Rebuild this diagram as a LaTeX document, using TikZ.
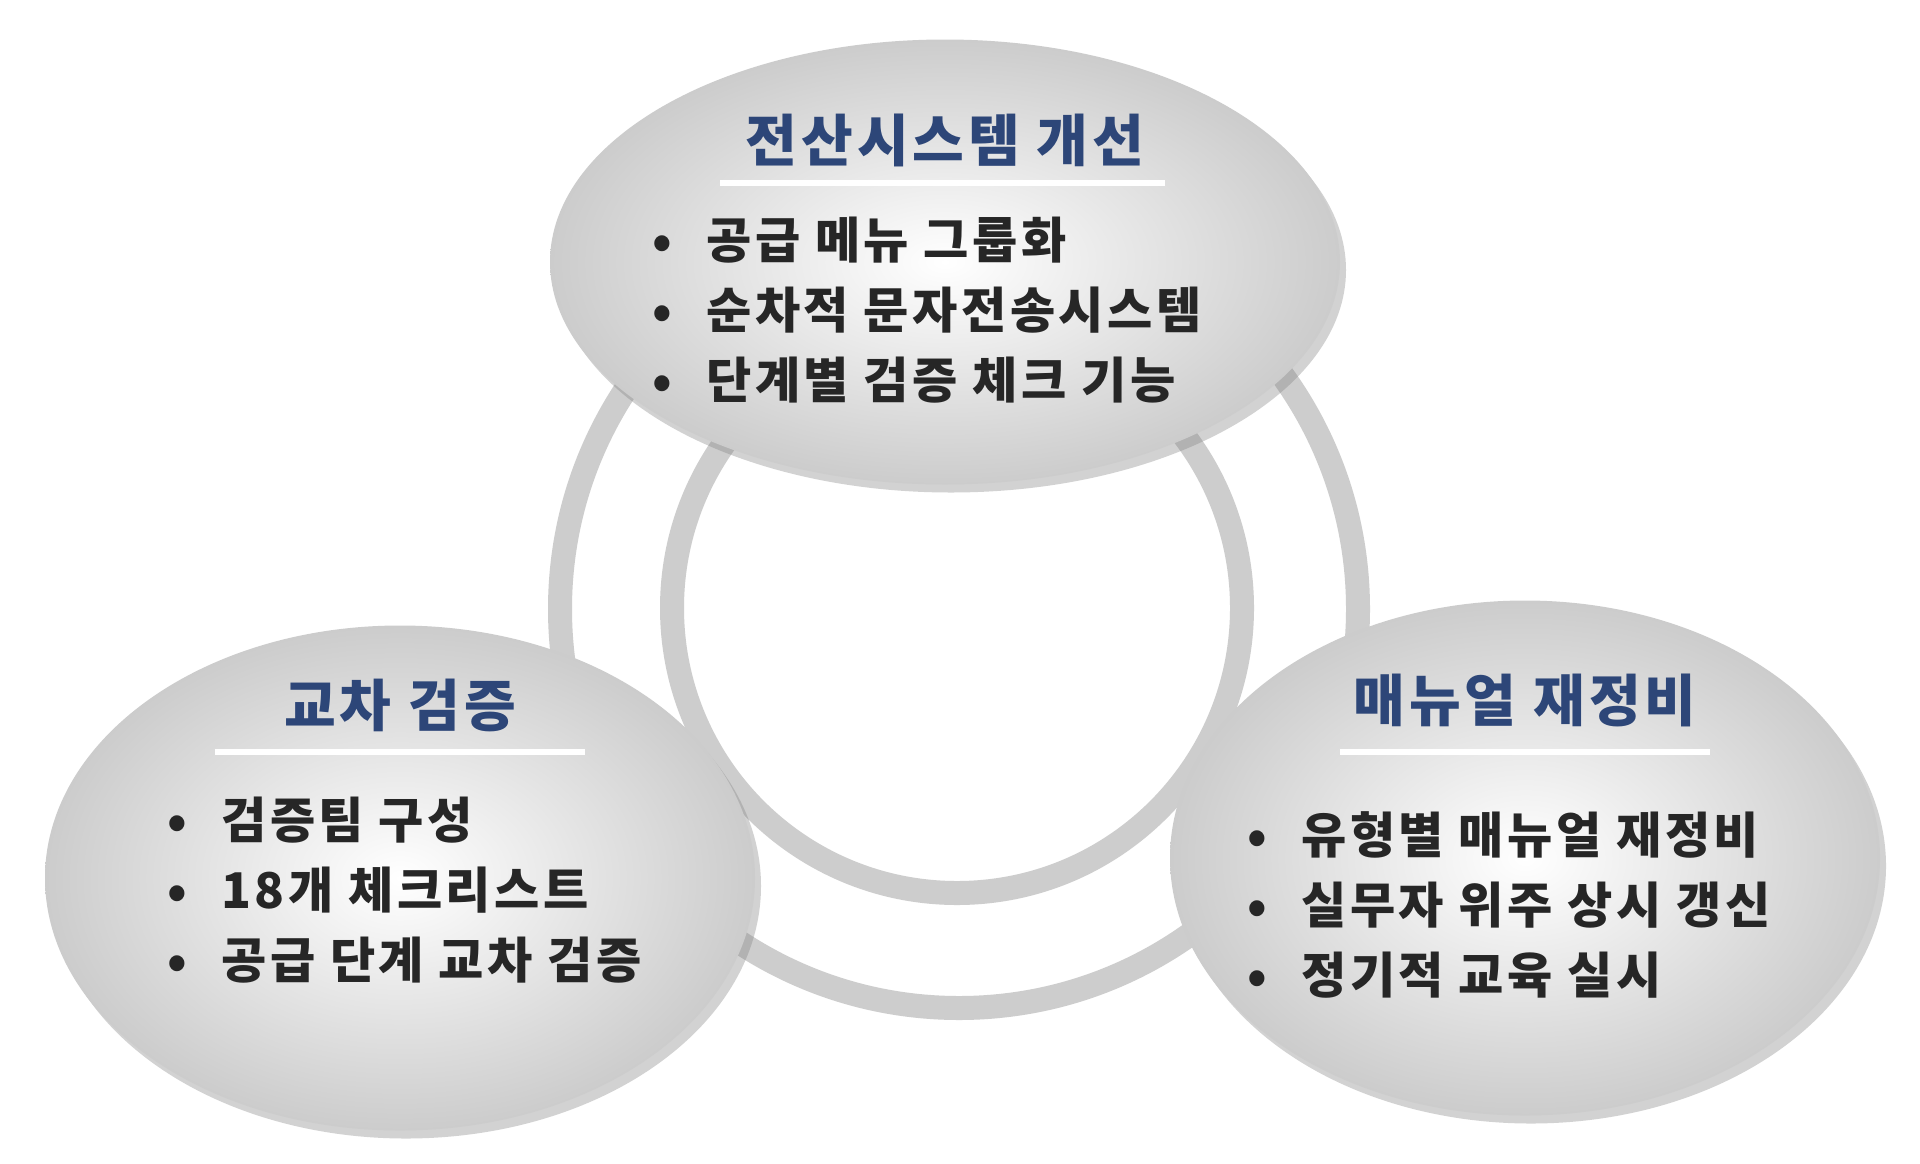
\documentclass[tikz,border=0pt]{standalone}
\usepackage{fontspec}
\setmainfont{Noto Sans CJK KR}
\newfontfamily\widefont[LetterSpace=7]{Noto Sans CJK KR}
\usetikzlibrary{shadows,shapes.geometric}
\definecolor{titleblue}{RGB}{45,70,120}
\definecolor{ringgray}{RGB}{205,205,205}
\tikzset{
  bubble/.style={ellipse, inner sep=0pt, draw=none, inner color=white, outer color=gray!40,
    drop shadow={shadow xshift=0.06, shadow yshift=-0.08, opacity=0.35}},
  title/.style={font=\widefont\fontsize{16pt}{18pt}\selectfont\bfseries, text=titleblue},
  items/.style={anchor=west, align=left, font=\widefont\fontsize{14pt}{20pt}\selectfont\bfseries, text=black!85},
  rule/.style={white, line width=1.6pt}
}
\newcommand{\bul}{•\hspace{0.7em}}
\begin{document}
\begin{tikzpicture}[yscale=-1]
  \useasboundingbox[fill=white] (0,0) rectangle (19.2,11.63);
  % rings
  \draw[ringgray, line width=0.24cm] (9.59,6.09) circle (3.99);
  \draw[ringgray, line width=0.24cm] (9.57,6.08) circle (2.85);
  % bubbles
  \node[bubble, minimum width=7.9cm, minimum height=4.45cm] (sys) at (9.45,2.62) {};
  \node[bubble, minimum width=7.1cm, minimum height=5.05cm] (cross) at (4.0,8.78) {};
  \node[bubble, minimum width=7.1cm, minimum height=5.15cm] (manual) at (15.25,8.58) {};
  % top
  \node[title] (sysT) at (9.45,1.40) {전산시스템 개선};
  \draw[rule] (7.2,1.83) -- (11.65,1.83);
  \node[items] (sysL) at (6.4,3.1) {\bul 공급 메뉴 그룹화\\\bul 순차적 문자전송시스템\\\bul 단계별 검증 체크 기능};
  % left
  \node[title] (crossT) at (4.0,7.05) {교차 검증};
  \draw[rule] (2.15,7.52) -- (5.85,7.52);
  \node[items] (crossL) at (1.55,8.9) {\bul 검증팀 구성\\\bul 18개 체크리스트\\\bul 공급 단계 교차 검증};
  % right
  \node[title] (manualT) at (15.25,7.0) {매뉴얼 재정비};
  \draw[rule] (13.4,7.52) -- (17.1,7.52);
  \node[items] (manualL) at (12.35,9.05) {\bul 유형별 매뉴얼 재정비\\\bul 실무자 위주 상시 갱신\\\bul 정기적 교육 실시};
\end{tikzpicture}
\end{document}
